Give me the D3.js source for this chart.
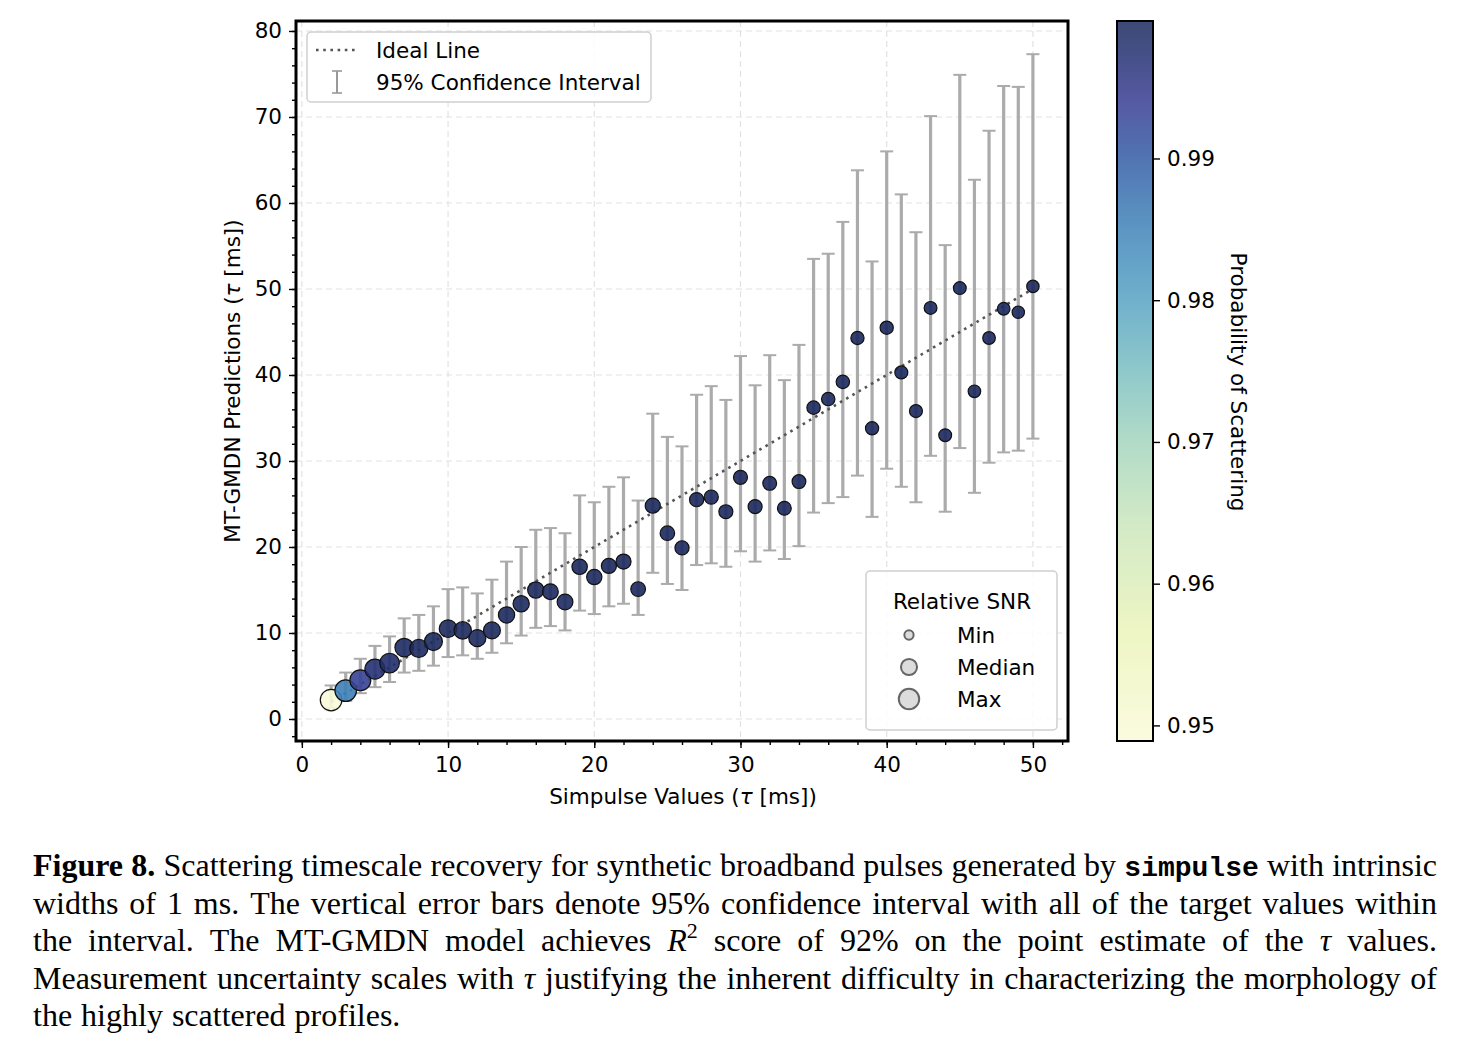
<!DOCTYPE html>
<html>
<head>
<meta charset="utf-8">
<script src="https://cdn.jsdelivr.net/npm/d3@7/dist/d3.min.js"></script>
<style>
  body { margin: 0; background: #fff; }
</style>
</head>
<body>
<svg id="fig" width="1473" height="1041" font-family="DejaVu Sans, sans-serif"></svg>
<script>
// ---- data ----
var tauTrue = [2,3,4,5,6,7,8,9,10,11,12,13,14,15,16,17,18,19,20,21,22,23,24,25,26,
               27,28,29,30,31,32,33,34,35,36,37,38,39,40,41,42,43,44,45,46,47,48,49,50];
var tauPred = [2.2,3.3,4.5,5.8,6.5,8.3,8.2,9.0,10.5,10.3,9.4,10.3,12.1,13.4,15.0,14.8,13.6,17.7,16.5,
               17.8,18.3,15.1,24.8,21.6,19.9,25.5,25.8,24.1,28.1,24.7,27.4,24.5,27.6,36.2,37.2,39.2,
               44.3,33.8,45.5,40.3,35.8,47.8,33.0,50.1,38.1,44.3,47.7,47.3,50.3];
var ciLow  = [1.3,2.1,3.0,3.7,4.3,5.4,5.6,6.2,7.2,7.4,7.0,7.7,8.8,9.7,10.6,10.8,10.3,12.6,12.2,13.1,
              13.4,12.1,17.0,15.7,15.0,17.9,18.1,17.7,19.5,18.3,19.6,18.6,20.1,24.0,25.1,25.8,28.3,
              23.5,29.1,27.0,25.2,30.6,24.1,31.5,26.3,29.8,31.0,31.2,32.6];
var ciHigh = [3.9,5.4,7.0,8.5,9.6,11.7,12.1,13.1,15.1,15.3,14.6,16.2,18.3,20.0,22.0,22.2,21.6,26.0,
              25.2,27.0,28.1,25.4,35.5,32.8,31.7,37.7,38.7,37.1,42.2,38.8,42.3,39.4,43.5,53.5,54.1,
              57.8,63.8,53.2,66.0,61.0,56.6,70.1,55.1,74.9,62.7,68.4,73.6,73.5,77.3];
var relSnr = [0.88,0.88,0.83,0.76,0.73,0.65,0.62,0.61,0.59,0.57,0.55,0.54,0.50,0.50,0.50,0.47,0.47,
              0.45,0.44,0.43,0.43,0.41,0.43,0.40,0.38,0.38,0.38,0.37,0.37,0.37,0.36,0.36,0.36,0.34,
              0.34,0.34,0.33,0.33,0.33,0.32,0.32,0.31,0.31,0.31,0.30,0.30,0.30,0.29,0.29];
var probScat = [0.9489,0.9855,0.9935,0.9972,0.9982,0.9992,0.9994,0.9995,0.9995,0.9996,0.9995,0.9996,
                0.9996,0.9995,0.9996,0.9996,0.9995,0.9996,0.9996,0.9997,0.9996,0.9996,0.9997,0.9996,
                0.9996,0.9997,0.9996,0.9996,0.9997,0.9997,0.9996,0.9997,0.9997,0.9997,0.9996,0.9997,
                0.9997,0.9997,0.9997,0.9997,0.9997,0.9997,0.9997,0.9997,0.9997,0.9997,0.9997,0.9997,0.9997];

var xTicks = [0,10,20,30,40,50];
var yTicks = [0,10,20,30,40,50,60,70,80];
var cbTicks = [0.95,0.96,0.97,0.98,0.99];
var legendSizes = [{label: "Min", snr: 0.24}, {label: "Median", snr: 0.62}, {label: "Max", snr: 0.95}];
// colormap stops (light yellow -> teal -> blue -> purple -> navy)
var cmapStops = ["#fafad9","#ebf4ba","#cbe6bc","#a2d4be","#78bdc2","#54a0c2","#3d80b7",
                 "#3257a2","#383c92","#253174","#1b295d"];
var cmapPos   = [0,0.15,0.3,0.42,0.52,0.62,0.72,0.82,0.89,0.95,1];

var captionLines = [
  ["b:Figure","b:8.","Scattering","timescale","recovery","for","synthetic","broadband","pulses","generated","by","m:simpulse","with","intrinsic"],
  ["widths","of","1","ms.","The","vertical","error","bars","denote","95%","confidence","interval","with","all","of","the","target","values","within"],
  ["the","interval.","The","MT-GMDN","model","achieves","i:R|s:2","score","of","92%","on","the","point","estimate","of","the","i:τ","values."],
  ["Measurement","uncertainty","scales","with","i:τ","justifying","the","inherent","difficulty","in","characterizing","the","morphology","of"],
  ["the","highly","scattered","profiles."]
];

var svg = d3.select("#fig");
var fs = "21.5px";

// ---- scales ----
var plot = {left: 296, right: 1068, top: 21, bottom: 741};
var x = d3.scaleLinear().domain([-0.4, 52.4]).range([plot.left, plot.right]);
var y = d3.scaleLinear().domain([-2.56, 81.16]).range([plot.bottom, plot.top]);
var rScale = d3.scaleSqrt().domain([0, 1]).range([0, 11.5]);
var cbDomain = [0.9489, 0.9997];
var cbT = d3.scaleLinear().domain(cbDomain).range([0, 1]).clamp(true);
var cmap = d3.scaleLinear().domain(cmapPos).range(cmapStops).interpolate(d3.interpolateRgb);
function colorOf(p) { return cmap(cbT(p)); }

var points = tauTrue.map(function(t, i) {
  return {x: t, y: tauPred[i], lo: ciLow[i], hi: ciHigh[i], snr: relSnr[i], p: probScat[i]};
});

// ---- grid ----
var grid = svg.append("g").attr("class", "grid")
  .attr("stroke", "#e2e2e2").attr("stroke-width", 1.2).attr("stroke-dasharray", "6,4");
grid.selectAll(".gx").data(xTicks).enter().append("line")
  .attr("x1", function(d) { return x(d); }).attr("x2", function(d) { return x(d); })
  .attr("y1", plot.top).attr("y2", plot.bottom);
grid.selectAll(".gy").data(yTicks).enter().append("line")
  .attr("y1", function(d) { return y(d); }).attr("y2", function(d) { return y(d); })
  .attr("x1", plot.left).attr("x2", plot.right);

// ---- error bars ----
var eb = svg.append("g").attr("stroke", "#ababab");
eb.selectAll(".bar").data(points).enter().append("line")
  .attr("x1", function(d) { return x(d.x); }).attr("x2", function(d) { return x(d.x); })
  .attr("y1", function(d) { return y(d.lo); }).attr("y2", function(d) { return y(d.hi); })
  .attr("stroke-width", 3.2);
eb.selectAll(".capHi").data(points).enter().append("line")
  .attr("x1", function(d) { return x(d.x) - 6.5; }).attr("x2", function(d) { return x(d.x) + 6.5; })
  .attr("y1", function(d) { return y(d.hi); }).attr("y2", function(d) { return y(d.hi); })
  .attr("stroke-width", 2);
eb.selectAll(".capLo").data(points).enter().append("line")
  .attr("x1", function(d) { return x(d.x) - 6.5; }).attr("x2", function(d) { return x(d.x) + 6.5; })
  .attr("y1", function(d) { return y(d.lo); }).attr("y2", function(d) { return y(d.lo); })
  .attr("stroke-width", 2);

// ---- ideal line ----
svg.append("line")
  .attr("x1", x(2)).attr("y1", y(2)).attr("x2", x(50)).attr("y2", y(50))
  .attr("stroke", "#555").attr("stroke-width", 2.6).attr("stroke-dasharray", "2.6,4.6");

// ---- points ----
svg.append("g").selectAll("circle").data(points).enter().append("circle")
  .attr("cx", function(d) { return x(d.x); })
  .attr("cy", function(d) { return y(d.y); })
  .attr("r", function(d) { return rScale(d.snr); })
  .attr("fill", function(d) { return colorOf(d.p); })
  .attr("fill-opacity", 0.9)
  .attr("stroke", "#111").attr("stroke-width", 1.2);

// ---- axes ----
function styleAxis(g) {
  g.select(".domain").remove();
  g.selectAll(".tick line").attr("stroke", "#000").attr("stroke-width", 1.4);
  g.selectAll("text").attr("font-size", fs).attr("fill", "#000")
    .attr("font-family", "DejaVu Sans, sans-serif");
}
var xMinor = d3.range(0, 53, 2);
var yMinor = d3.range(-2, 81, 2);
svg.append("g").attr("transform", "translate(0," + plot.bottom + ")")
  .call(d3.axisBottom(x).tickValues(xMinor).tickSize(4).tickFormat("")).call(styleAxis);
svg.append("g").attr("transform", "translate(" + plot.left + ",0)")
  .call(d3.axisLeft(y).tickValues(yMinor).tickSize(4).tickFormat("")).call(styleAxis);
svg.append("g").attr("transform", "translate(0," + plot.bottom + ")")
  .call(d3.axisBottom(x).tickValues(xTicks).tickSize(7).tickPadding(9)).call(styleAxis);
svg.append("g").attr("transform", "translate(" + plot.left + ",0)")
  .call(d3.axisLeft(y).tickValues(yTicks).tickSize(7).tickPadding(7)).call(styleAxis);

svg.append("rect")
  .attr("x", plot.left).attr("y", plot.top)
  .attr("width", plot.right - plot.left).attr("height", plot.bottom - plot.top)
  .attr("fill", "none").attr("stroke", "#000").attr("stroke-width", 3);

// axis labels
var xl = svg.append("text").attr("x", 683).attr("y", 804)
  .attr("text-anchor", "middle").attr("font-size", fs);
xl.append("tspan").text("Simpulse Values (");
xl.append("tspan").attr("font-style", "italic").text("τ");
xl.append("tspan").text(" [ms])");

var yl = svg.append("text").attr("transform", "translate(240,381) rotate(-90)")
  .attr("text-anchor", "middle").attr("font-size", fs);
yl.append("tspan").text("MT-GMDN Predictions (");
yl.append("tspan").attr("font-style", "italic").text("τ");
yl.append("tspan").text(" [ms])");

// ---- legend: ideal line / CI ----
var lg = svg.append("g");
lg.append("rect").attr("x", 307).attr("y", 32).attr("width", 344).attr("height", 70).attr("rx", 4)
  .attr("fill", "#fff").attr("fill-opacity", 0.85).attr("stroke", "#cfcfcf").attr("stroke-width", 1.5);
lg.append("line").attr("x1", 316).attr("x2", 356).attr("y1", 50).attr("y2", 50)
  .attr("stroke", "#555").attr("stroke-width", 2.6).attr("stroke-dasharray", "2.6,4.6");
lg.append("line").attr("x1", 337).attr("x2", 337).attr("y1", 71).attr("y2", 93)
  .attr("stroke", "#999").attr("stroke-width", 2);
lg.append("line").attr("x1", 332).attr("x2", 342).attr("y1", 71).attr("y2", 71)
  .attr("stroke", "#999").attr("stroke-width", 1.6);
lg.append("line").attr("x1", 332).attr("x2", 342).attr("y1", 93).attr("y2", 93)
  .attr("stroke", "#999").attr("stroke-width", 1.6);
lg.append("text").attr("x", 376).attr("y", 58).attr("font-size", fs).text("Ideal Line");
lg.append("text").attr("x", 376).attr("y", 90).attr("font-size", fs).text("95% Confidence Interval");

// ---- legend: relative SNR ----
var sg = svg.append("g");
sg.append("rect").attr("x", 866).attr("y", 571).attr("width", 191).attr("height", 159).attr("rx", 4)
  .attr("fill", "#fff").attr("fill-opacity", 0.85).attr("stroke", "#cfcfcf").attr("stroke-width", 1.5);
sg.append("text").attr("x", 962).attr("y", 609).attr("text-anchor", "middle")
  .attr("font-size", fs).text("Relative SNR");
var sItems = sg.selectAll(".item").data(legendSizes).enter().append("g")
  .attr("transform", function(d, i) { return "translate(0," + (635 + i * 32) + ")"; });
sItems.append("circle").attr("cx", 909).attr("cy", 0)
  .attr("r", function(d) { return rScale(d.snr) - 1; })
  .attr("fill", "#dcdcdc").attr("stroke", "#666").attr("stroke-width", 2);
sItems.append("text").attr("x", 957).attr("y", 8).attr("font-size", fs)
  .text(function(d) { return d.label; });

// ---- colorbar ----
var cb = {left: 1117, right: 1153, top: 21, bottom: 741};
var cbY = d3.scaleLinear().domain(cbDomain).range([cb.bottom, cb.top]);
var grad = svg.append("defs").append("linearGradient").attr("id", "cbgrad")
  .attr("x1", 0).attr("y1", 1).attr("x2", 0).attr("y2", 0);
grad.selectAll("stop").data(cmapStops).enter().append("stop")
  .attr("offset", function(d, i) { return cmapPos[i]; })
  .attr("stop-color", function(d) { return d; });
svg.append("rect").attr("x", cb.left).attr("y", cb.top)
  .attr("width", cb.right - cb.left).attr("height", cb.bottom - cb.top)
  .attr("fill", "url(#cbgrad)").attr("opacity", 0.85);
svg.append("rect").attr("x", cb.left).attr("y", cb.top)
  .attr("width", cb.right - cb.left).attr("height", cb.bottom - cb.top)
  .attr("fill", "none").attr("stroke", "#000").attr("stroke-width", 2);
svg.append("g").attr("transform", "translate(" + cb.right + ",0)")
  .call(d3.axisRight(cbY).tickValues(cbTicks).tickSize(7).tickPadding(7).tickFormat(d3.format(".2f")))
  .call(styleAxis);
svg.append("text").attr("transform", "translate(1231,382) rotate(90)")
  .attr("text-anchor", "middle").attr("font-size", fs).text("Probability of Scattering");

// ---- caption (justified) ----
var cap = svg.append("g").attr("font-family", "Liberation Serif, serif").attr("font-size", "32px");
var capLeft = 33, capRight = 1437, capTop = 876, capStep = 37.5;
captionLines.forEach(function(words, li) {
  var yy = capTop + li * capStep;
  var nodes = words.map(function(w) {
    var t = cap.append("text").attr("y", yy);
    w.split("|").forEach(function(seg) {
      var m = seg.match(/^([bmis]):(.*)$/);
      var style = m ? m[1] : "";
      var txt = m ? m[2] : seg;
      var ts = t.append("tspan").text(txt);
      if (style === "b") ts.attr("font-weight", "bold");
      if (style === "m") ts.attr("font-family", "Liberation Mono, monospace").attr("font-size", "28px")
        .attr("font-weight", "bold");
      if (style === "i") ts.attr("font-style", "italic");
      if (style === "s") ts.attr("font-size", "22px").attr("dy", "-13");
    });
    return t;
  });
  var widths = nodes.map(function(t) { return t.node().getComputedTextLength(); });
  var total = d3.sum(widths);
  var last = li === captionLines.length - 1;
  var gap = last ? 9 : (capRight - capLeft - total) / (words.length - 1);
  var cx = capLeft;
  nodes.forEach(function(t, i) {
    t.attr("x", cx);
    cx += widths[i] + gap;
  });
});
</script>
</body>
</html>
